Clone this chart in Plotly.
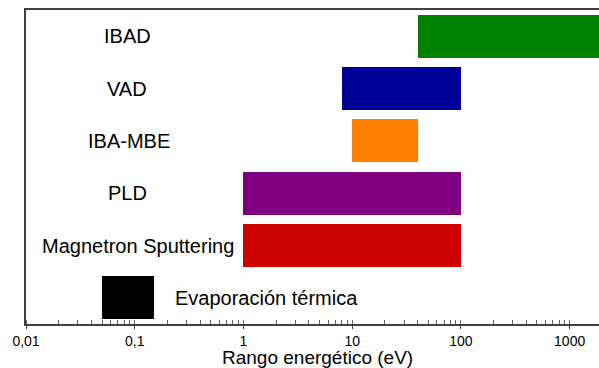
import plotly.graph_objects as go

techniques = ["IBAD", "VAD", "IBA-MBE", "PLD", "Magnetron Sputtering", "Evaporación térmica"]
e_min = [40, 8, 10, 1, 1, 0.05]
e_max = [2000, 100, 40, 100, 100, 0.15]
colors = ["#008000", "#000099", "#ff8000", "#800080", "#cc0000", "#000000"]

tick_vals = [0.01, 0.1, 1, 10, 100, 1000]
tick_text = ["0,01", "0,1", "1", "10", "100", "1000"]

FAM = "Liberation Sans, Arial, sans-serif"

fig = go.Figure()
fig.add_trace(go.Bar(
    y=list(range(len(techniques))),
    x=[b - a for a, b in zip(e_min, e_max)],
    base=e_min,
    orientation="h",
    width=0.82,
    marker=dict(color=colors, line=dict(width=0)),
    showlegend=False,
    hoverinfo="skip",
))

font = dict(family=FAM, size=20, color="black")
label_pos = [-1.063, -1.07, -1.05, -1.07, -0.967]
for i, name in enumerate(techniques[:-1]):
    fig.add_annotation(x=label_pos[i], y=i, xref="x", yref="y", text=name, showarrow=False,
                       font=font, xanchor="center", yanchor="middle")
fig.add_annotation(x=-0.65, y=5, xref="x", yref="y", text=techniques[-1], showarrow=False,
                   font=font, xanchor="left", yanchor="middle")

fig.add_annotation(x=0.508, y=-0.107, xref="paper", yref="paper", text="Rango energético (eV)",
                   showarrow=False, font=dict(family=FAM, size=19, color="black"),
                   xanchor="center", yanchor="middle", borderpad=0)

fig.update_layout(
    width=599, height=368,
    margin=dict(l=26, r=0, t=10, b=44),
    paper_bgcolor="white", plot_bgcolor="white",
    bargap=0,
)
fig.update_xaxes(
    type="log", range=[-2, 3.27],
    tickvals=tick_vals, ticktext=tick_text,
    showline=True, linecolor="#404040", linewidth=1.5, mirror=True,
    ticks="outside", ticklen=3, tickcolor="#404040",
    minor=dict(ticks="inside", ticklen=4, tickcolor="#606060", dtick="D1", showgrid=False),
    showgrid=False, zeroline=False,
    tickfont=dict(family=FAM, size=14, color="black"),
)
fig.update_yaxes(
    range=[5.5, -0.5], showticklabels=False, ticks="",
    showline=True, linecolor="#404040", linewidth=1.5,
    showgrid=False, zeroline=False,
)

fig.write_html("out.html")
